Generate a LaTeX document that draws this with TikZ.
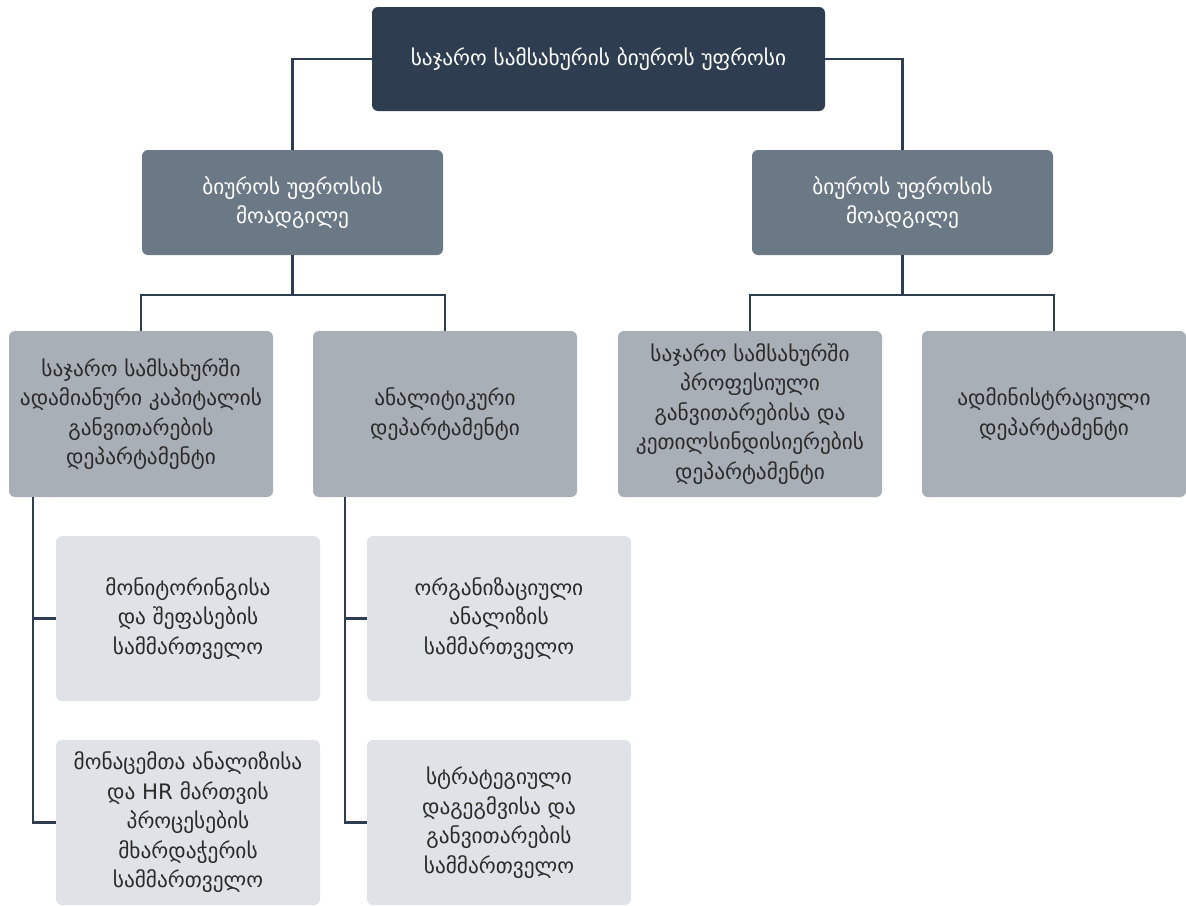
\documentclass[tikz,border=0pt]{standalone}
\usepackage{fontspec}
\setmainfont{DejaVu Sans}
\usepackage{tikz}

\definecolor{chiefcol}{HTML}{2E3E50}
\definecolor{deputycol}{HTML}{6B7886}
\definecolor{deptcol}{HTML}{A9AFB7}
\definecolor{unitcol}{HTML}{DFE2E6}
\definecolor{inkcol}{HTML}{2A2A2A}

\tikzset{
  orgbox/.style={rectangle, rounded corners=6pt, align=center, inner sep=4pt,
    font=\fontsize{21.3}{29.5}\selectfont},
  chiefbox/.style={orgbox, fill=chiefcol, text=white, minimum width=453pt, minimum height=104pt},
  deputybox/.style={orgbox, fill=deputycol, text=white, minimum width=301pt, minimum height=105pt},
  deptbox/.style={orgbox, fill=deptcol, text=inkcol, minimum width=264pt, minimum height=166pt},
  unitbox/.style={orgbox, fill=unitcol, text=inkcol, minimum width=264pt, minimum height=165pt},
  link/.style={draw=chiefcol, line width=2.3pt}
}

\begin{document}
\begin{tikzpicture}[x=1pt, y=-1pt]
  \useasboundingbox (0,0) rectangle (1186,905);

  % top level
  \node[chiefbox] (chief) at (598.5,59) {საჯარო სამსახურის ბიუროს უფროსი};

  % deputies
  \node[deputybox] (depL) at (292.5,202.5) {ბიუროს უფროსის\\მოადგილე};
  \node[deputybox] (depR) at (902.5,202.5) {ბიუროს უფროსის\\მოადგილე};

  % departments
  \node[deptbox] (deptA) at (141,414) {საჯარო სამსახურში\\ადამიანური კაპიტალის\\განვითარების\\დეპარტამენტი};
  \node[deptbox] (deptB) at (445,414) {ანალიტიკური\\დეპარტამენტი};
  \node[deptbox] (deptC) at (750,414) {საჯარო სამსახურში\\პროფესიული\\განვითარებისა და\\კეთილსინდისიერების\\დეპარტამენტი};
  \node[deptbox] (deptD) at (1054,414) {ადმინისტრაციული\\დეპარტამენტი};

  % divisions
  \node[unitbox] (unitA1) at (188,618.5) {მონიტორინგისა\\და შეფასების\\სამმართველო};
  \node[unitbox] (unitA2) at (188,822.5) {მონაცემთა ანალიზისა\\და HR მართვის\\პროცესების\\მხარდაჭერის\\სამმართველო};
  \node[unitbox] (unitB1) at (499,618.5) {ორგანიზაციული\\ანალიზის\\სამმართველო};
  \node[unitbox] (unitB2) at (499,822.5) {სტრატეგიული\\დაგეგმვისა და\\განვითარების\\სამმართველო};

  % connectors
  \draw[link] (chief.west) -| (depL.north);
  \draw[link] (chief.east) -| (depR.north);

  \coordinate (forkL) at (292.5,295);
  \coordinate (forkR) at (902.5,295);
  \draw[link] (depL.south) -- (forkL);
  \draw[link] (forkL) -| (deptA.north);
  \draw[link] (forkL) -| (deptB.north);
  \draw[link] (depR.south) -- (forkR);
  \draw[link] (forkR) -| (deptC.north);
  \draw[link] (forkR) -| (deptD.north);

  \coordinate (stemA) at ([xshift=24pt]deptA.south west);
  \coordinate (stemB) at ([xshift=32pt]deptB.south west);
  \draw[link] (stemA) |- (unitA1.west);
  \draw[link] (stemA) |- (unitA2.west);
  \draw[link] (stemB) |- (unitB1.west);
  \draw[link] (stemB) |- (unitB2.west);
\end{tikzpicture}
\end{document}
